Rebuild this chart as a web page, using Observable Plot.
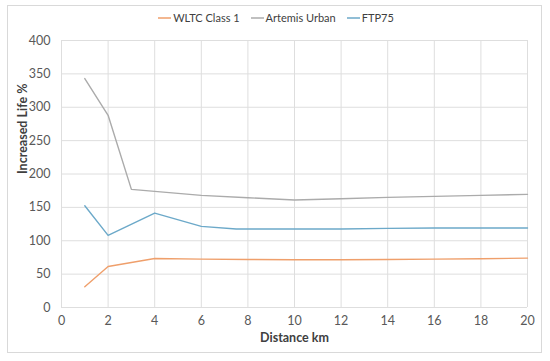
<!DOCTYPE html>
<html>
<head>
<meta charset="utf-8">
<script src="https://cdn.jsdelivr.net/npm/d3@7"></script>
<script src="https://cdn.jsdelivr.net/npm/@observablehq/plot@0.6"></script>
<style>
  html, body { margin: 0; padding: 0; background: #fff; }
  #wrap { position: relative; width: 550px; height: 361px; overflow: hidden; }
  #frame { position: absolute; left: 7px; top: 5px; width: 535px; height: 348px; border: 1px solid #d9d9d9; box-sizing: border-box; pointer-events: none; }
  #legend { position: absolute; top: 11px; left: 0; width: 550px; display: flex; justify-content: center; gap: 11px; font: 11px Lato, sans-serif; color: #404040; padding-left: 2px; box-sizing: border-box; }
  #legend .item { display: flex; align-items: center; }
  #legend svg { margin-right: 2px; }
  #chart { position: absolute; left: 0; top: 0; }
</style>
</head>
<body>
<div id="wrap">
  <div id="chart"></div>
  <div id="frame"></div>
  <div id="legend"></div>
</div>
<script>
// Series names and colours
const seriesNames = ["WLTC Class 1", "Artemis Urban", "FTP75"];
const seriesColors = ["#EF9F6B", "#ABABAB", "#6CA9C9"];

// WLTC Class 1
const wltcKm   = [1, 2, 4, 6, 8, 10, 12, 14, 16, 18, 20];
const wltcLife = [31, 61.5, 73.5, 72.5, 72, 71.5, 71.5, 72, 72.5, 73, 74];

// Artemis Urban
const artemisKm   = [1, 2, 3, 4, 6, 8, 10, 12, 14, 16, 18, 20];
const artemisLife = [343, 288, 177, 174, 168, 164.5, 161, 163, 165, 166.5, 168, 169.5];

// FTP75
const ftpKm   = [1, 2, 4, 6, 7.5, 10, 12, 14, 16, 18, 20];
const ftpLife = [152.5, 108, 141.5, 121.5, 117.5, 117.5, 117.5, 118.5, 119, 119, 119];

// Axis ticks
const xTicks = [0, 2, 4, 6, 8, 10, 12, 14, 16, 18, 20];
const yTicks = [0, 50, 100, 150, 200, 250, 300, 350, 400];

const xTitle = "Distance km";
const yTitle = "Increased Life %";

const rows = [];
[[wltcKm, wltcLife], [artemisKm, artemisLife], [ftpKm, ftpLife]].forEach(([xs, ys], i) => {
  xs.forEach((x, j) => rows.push({series: seriesNames[i], km: x, life: ys[j]}));
});

const chart = Plot.plot({
  width: 550,
  height: 361,
  marginLeft: 61,
  marginRight: 23,
  marginTop: 40,
  marginBottom: 54,
  x: {domain: [0, 20]},
  y: {domain: [0, 400]},
  color: {domain: seriesNames, range: seriesColors},
  style: {fontFamily: "Lato, sans-serif", fontSize: "12px", color: "#595959", background: "transparent"},
  marks: [
    Plot.ruleX(xTicks, {x: d => d, stroke: "#dedede", strokeWidth: 1}),
    Plot.ruleY(yTicks, {y: d => d, stroke: "#dedede", strokeWidth: 1}),
    Plot.axisX({ticks: xTicks, tickSize: 0, tickPadding: 9, label: null, fontSize: 12.5}),
    Plot.axisY({ticks: yTicks, tickSize: 0, tickPadding: 11, label: null, fontSize: 12.5}),
    Plot.line(rows, {x: "km", y: "life", z: "series", stroke: "series", strokeWidth: 1.4}),
    Plot.text([xTitle], {frameAnchor: "bottom", dy: 34, fontWeight: "bold", fontSize: 12.5, fill: "#404040"}),
    Plot.text([yTitle], {frameAnchor: "left", dx: -39, rotate: -90, fontWeight: "bold", fontSize: 12.5, fill: "#404040"})
  ]
});
document.getElementById("chart").appendChild(chart);

const legend = document.getElementById("legend");
const NS = "http://www.w3.org/2000/svg";
seriesNames.forEach((name, i) => {
  const item = document.createElement("div");
  item.className = "item";
  const svg = document.createElementNS(NS, "svg");
  svg.setAttribute("width", "13");
  svg.setAttribute("height", "4");
  const ln = document.createElementNS(NS, "line");
  ln.setAttribute("x1", "0"); ln.setAttribute("x2", "13");
  ln.setAttribute("y1", "2"); ln.setAttribute("y2", "2");
  ln.setAttribute("stroke", seriesColors[i]);
  ln.setAttribute("stroke-width", "1.5");
  svg.appendChild(ln);
  item.appendChild(svg);
  const t = document.createElement("span");
  t.textContent = name;
  item.appendChild(t);
  legend.appendChild(item);
});
</script>
</body>
</html>
